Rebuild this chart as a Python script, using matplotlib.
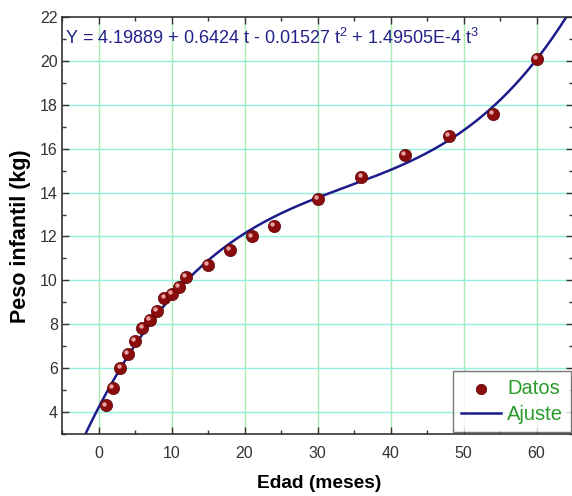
import matplotlib
matplotlib.use("Agg")
import matplotlib.pyplot as plt
import numpy as np
from matplotlib.transforms import offset_copy
from matplotlib.ticker import MultipleLocator

# Data
edad = [1, 2, 3, 4, 5, 6, 7, 8, 9, 10, 11, 12, 15, 18, 21, 24, 30, 36, 42, 48, 54, 60]
peso = [4.3, 5.1, 6.0, 6.65, 7.25, 7.85, 8.2, 8.6, 9.2, 9.4, 9.7, 10.15,
        10.7, 11.4, 12.0, 12.5, 13.7, 14.7, 15.7, 16.6, 17.6, 20.1]
coefs = [4.19889, 0.6424, -0.01527, 1.49505e-4]
x_ticks = [0, 10, 20, 30, 40, 50, 60]
y_ticks = [4, 6, 8, 10, 12, 14, 16, 18, 20, 22]

plt.rcParams['font.family'] = ['Liberation Sans', 'DejaVu Sans']
plt.rcParams['mathtext.fontset'] = 'custom'
plt.rcParams['mathtext.rm'] = 'Liberation Sans'

fig = plt.figure(figsize=(5.72, 4.96), dpi=100)
ax = fig.add_axes([62/572, 1-434/496, (573-62)/572, (434-17)/496])
ax.set_xlim(-5, 65)
ax.set_ylim(3, 22)

for xv in x_ticks:
    ax.axvline(xv, color="#a8ecb0", lw=1.0, zorder=0)
for yv in y_ticks[:-1]:
    ax.axhline(yv, color="#8ff0e0", lw=1.0, zorder=0)

t = np.linspace(-5, 65, 400)
fit = coefs[0] + coefs[1]*t + coefs[2]*t**2 + coefs[3]*t**3
line, = ax.plot(t, fit, color="#1c1c8a", lw=1.8, zorder=2, label="Ajuste")

sc = ax.scatter(edad, peso, s=78, color="#8a0c0c", edgecolor="#5a0505", lw=0.5, zorder=3, label="Datos")
hl = offset_copy(ax.transData, fig=fig, x=-1.2, y=1.4, units="points")
ax.scatter(edad, peso, s=10, color="#e8a0a0", lw=0, zorder=4, transform=hl)

ax.set_xticks(x_ticks)
ax.set_yticks(y_ticks)
ax.xaxis.set_minor_locator(MultipleLocator(5))
ax.yaxis.set_minor_locator(MultipleLocator(1))
ax.tick_params(which="both", direction="in", top=True, right=True, labelsize=11.5, colors="#333333")
ax.tick_params(which="major", length=5, width=1)
ax.tick_params(which="minor", length=3, width=1)
ax.tick_params(axis="y", labelright=False, pad=3)
ax.tick_params(axis="x", pad=9)
for s in ax.spines.values():
    s.set_color("#333333")
    s.set_linewidth(1.2)

fig.text(319.5/572, 1-484/496, "Edad (meses)", fontsize=13.8, fontweight="bold",
         ha="center", va="center")
fig.text(21/572, 1-236/496, "Peso infantil (kg)", fontsize=15.5, fontweight="bold",
         ha="center", va="center", rotation=90)

ax.text(-4.6, 21.05, r"Y = 4.19889 + 0.6424 t - 0.01527 t$^2$ + 1.49505E-4 t$^3$",
        color="#22228a", fontsize=13, va="center", ha="left")

leg = ax.legend(handles=[sc, line], loc="lower right", fontsize=14.5, frameon=True,
                fancybox=False, edgecolor="#555555", borderaxespad=0.1,
                handlelength=2.0, handletextpad=0.3, labelspacing=0.35, borderpad=0.4,
                markerscale=0.85)
leg.get_frame().set_linewidth(1.0)
for txt in leg.get_texts():
    txt.set_color("#2a9a2a")

fig.savefig("out.png", dpi=100)
